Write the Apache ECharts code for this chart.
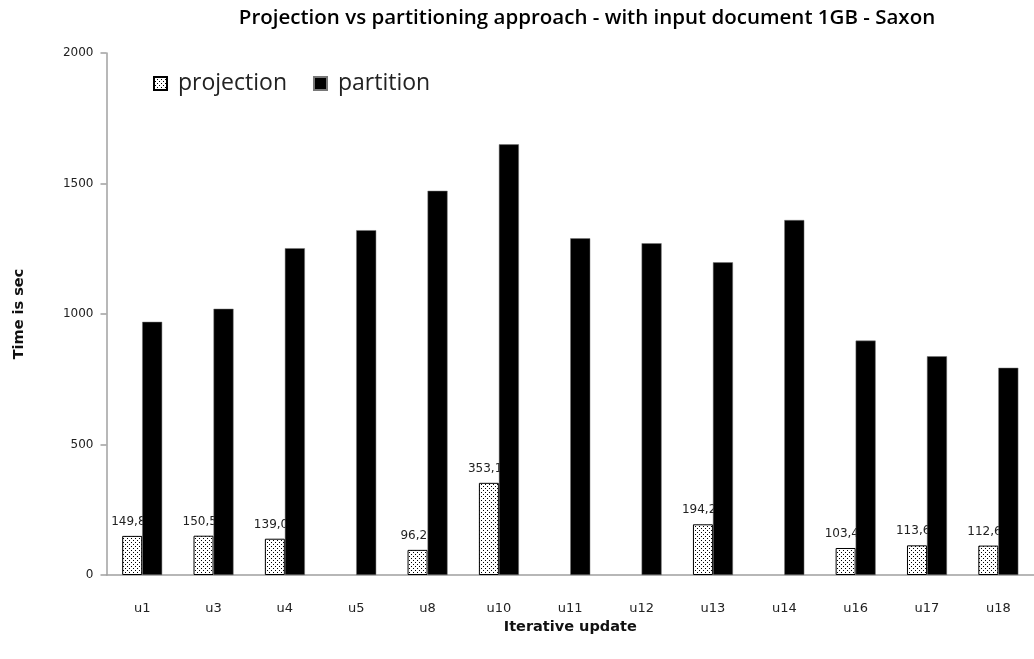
<!DOCTYPE html>
<html><head><meta charset="utf-8">
<script src="https://cdn.jsdelivr.net/npm/echarts@6/dist/echarts.min.js"></script>
<style>html,body{margin:0;padding:0;background:#fff}#c{width:1034px;height:659px}</style>
</head><body><div id="c"></div>
<script>
const categories = ['u1','u3','u4','u5','u8','u10','u11','u12','u13','u14','u16','u17','u18'];
const projection = [149.84,150.52,139.05,null,96.27,353.12,null,null,194.21,null,103.45,113.64,112.63];
const partition = [970,1020,1252,1321,1472,1650,1290,1271,1198,1360,898,838,794];
const yMin = 0, yMax = 2000, yStep = 500;

function dotPattern(){
  const c = document.createElement('canvas');
  c.width = 4; c.height = 4;
  const g = c.getContext('2d');
  g.fillStyle = '#fff'; g.fillRect(0,0,4,4);
  g.fillStyle = '#000';
  g.fillRect(1,0,1,1); g.fillRect(3,2,1,1);
  return c;
}
const pat = {image: dotPattern(), repeat: 'repeat'};

const chart = echarts.init(document.getElementById('c'), null, {renderer:'canvas'});
chart.setOption({
  animation: false,
  backgroundColor: '#fff',
  title: {
    text: 'Projection vs partitioning approach - with input document 1GB - Saxon',
    left: 582, top: 3, textAlign: 'center',
    textStyle: {fontFamily: 'Open Sans', fontWeight: 600, fontSize: 20.5, color: '#000'}
  },
  legend: {
    left: 148, top: 67, icon: 'rect',
    itemWidth: 13, itemHeight: 13, itemGap: 26,
    textStyle: {fontFamily: 'Open Sans', fontSize: 23, color: '#222', padding: [0, 0, 0, 6]},
    data: ['projection','partition']
  },
  grid: {left: 106.5, top: 53, width: 940, bottom: 84, containLabel: false},
  xAxis: {
    type: 'category', data: categories,
    name: 'Iterative update', nameLocation: 'middle', nameGap: 32,
    nameTextStyle: {fontFamily: 'DejaVu Sans', fontWeight: 'bold', fontSize: 14.5, color: '#111'},
    axisLine: {lineStyle: {color: '#a0a0a0', width: 1.5}},
    axisTick: {show: false},
    axisLabel: {fontFamily: 'DejaVu Sans', fontSize: 13, color: '#222', margin: 27}
  },
  yAxis: {
    type: 'value', min: yMin, max: yMax, interval: yStep,
    name: 'Time is sec', nameLocation: 'middle', nameGap: 80,
    nameTextStyle: {fontFamily: 'DejaVu Sans', fontWeight: 'bold', fontSize: 14.5, color: '#111'},
    splitLine: {show: false},
    axisLine: {show: true, lineStyle: {color: '#a0a0a0', width: 1.5}},
    axisTick: {show: true, length: 6, lineStyle: {color: '#a0a0a0', width: 1.5}},
    axisLabel: {fontFamily: 'DejaVu Sans', fontSize: 12, color: '#222', margin: 13,
      formatter: v => String(v)}
  },
  series: [
    {
      name: 'projection', type: 'bar', data: projection, z: 2,
      barWidth: 20, barGap: '0%',
      itemStyle: {color: pat, borderColor: '#000', borderWidth: 1},
      label: {
        show: true, position: 'top', distance: 8,
        fontFamily: 'DejaVu Sans', fontSize: 12, color: '#222',
        formatter: p => p.value == null ? '' : p.value.toFixed(2).replace('.', ',')
      }
    },
    {
      name: 'partition', type: 'bar', data: partition, z: 3,
      barWidth: 20,
      itemStyle: {color: '#000', borderColor: '#777', borderWidth: 0.5}
    }
  ]
});
</script></body></html>
